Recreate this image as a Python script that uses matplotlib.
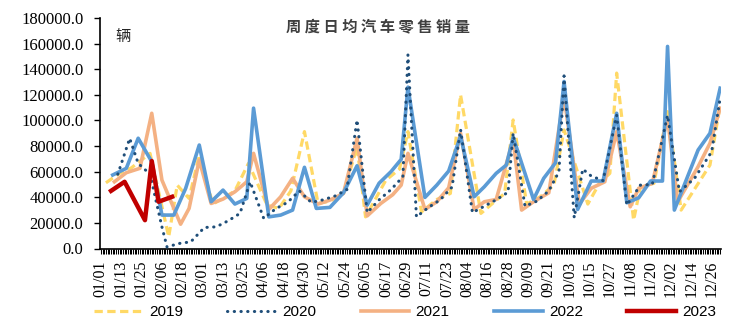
import numpy as np
import pandas as pd
import matplotlib
matplotlib.use('Agg')
import matplotlib.pyplot as plt

#-------------------------------------------------------------------------------
#DATA (dates placed on a leap-year calendar axis, values = daily avg units)

d2019 = ['01/04', '01/12', '01/19', '01/30', '02/10', '02/15', '02/22', '02/28',
         '03/07', '03/13', '03/20', '03/28', '04/08', '04/15', '04/22', '04/30',
         '05/08', '05/15', '05/23', '05/31', '06/05', '06/17', '06/25', '06/30',
         '07/08', '07/17', '07/25', '07/31', '08/12', '08/20', '08/26', '08/31',
         '09/08', '09/16', '09/24', '09/30', '10/14', '10/21', '10/27', '10/31',
         '11/10', '11/14', '11/22', '11/30', '12/08', '12/20', '12/25', '12/31']
v2019 = [51300, 58700, 63000, 74300, 9100, 49500, 39100, 73000,
         34700, 39100, 45000, 66500, 33900, 31300, 45000, 91300,
         35200, 37000, 43000, 79500, 24700, 53400, 62000, 91300,
         28600, 38300, 43000, 120000, 27400, 36500, 43000, 100400,
         34700, 40400, 49500, 92600, 34700, 51300, 58700, 137000,
         22100, 48200, 50900, 106900, 30000, 54800, 65200, 112000]

d2020 = ['01/11', '01/18', '01/23', '01/30', '02/06', '02/09', '02/16', '02/23',
         '03/02', '03/09', '03/16', '03/23', '03/29', '04/06', '04/13', '04/20',
         '04/27', '05/04', '05/11', '05/18', '05/25', '05/31', '06/06', '06/13',
         '06/20', '06/27', '06/30', '07/05', '07/12', '07/19', '07/26', '07/31',
         '08/07', '08/14', '08/21', '08/28', '08/31', '09/07', '09/14', '09/21',
         '09/27', '09/30', '10/06', '10/11', '10/16', '10/23', '10/31', '11/06',
         '11/14', '11/21', '11/30', '12/07', '12/16', '12/26', '12/31']
v2020 = [58000, 86000, 66500, 58000, 16900, 1200, 3900, 5200,
         16400, 16900, 21600, 27400, 52000, 23500, 31000, 36000,
         45000, 36000, 38000, 41000, 46000, 100400, 28000, 38000,
         46000, 56000, 151300, 24700, 32000, 38000, 48000, 93000,
         28000, 33000, 38000, 44000, 90000, 33000, 37000, 45000,
         60000, 134800, 24000, 62000, 56600, 53000, 104000, 33900,
         49500, 50000, 104000, 44300, 55000, 75600, 117400]

d2021 = ['01/09', '01/16', '01/24', '01/31', '02/06', '02/17', '02/22', '02/28',
         '03/06', '03/13', '03/20', '03/27', '03/31', '04/09', '04/16', '04/23',
         '04/30', '05/08', '05/15', '05/23', '05/31', '06/06', '06/14', '06/21',
         '06/26', '06/30', '07/10', '07/17', '07/24', '07/31', '08/08', '08/14',
         '08/21', '08/31', '09/05', '09/12', '09/21', '09/30', '10/09', '10/16',
         '10/24', '10/31', '11/08', '11/13', '11/21', '11/30', '12/06', '12/18',
         '12/25', '12/31']
v2021 = [52100, 59200, 62600, 105600, 53400, 19000, 31300, 69100,
         35200, 38600, 44300, 52100, 74300, 30500, 40400, 54800,
         40400, 34700, 37800, 43000, 86100, 25500, 35200, 42000,
         49500, 74300, 30500, 36500, 47400, 90000, 30500, 36500,
         38300, 84800, 30000, 36500, 43500, 118600, 34700, 47000,
         52100, 91300, 32600, 47000, 50900, 101700, 36500, 63900,
         82200, 109600]

d2022 = ['01/08', '01/16', '01/23', '01/31', '02/06', '02/13', '02/20', '02/28',
         '03/06', '03/13', '03/20', '03/27', '03/31', '04/09', '04/16', '04/23',
         '04/30', '05/07', '05/15', '05/23', '05/31', '06/06', '06/13', '06/20',
         '06/26', '06/30', '07/10', '07/17', '07/24', '07/31', '08/08', '08/14',
         '08/21', '08/27', '08/31', '09/12', '09/18', '09/25', '09/30', '10/08',
         '10/16', '10/23', '10/31', '11/06', '11/13', '11/20', '11/27', '11/30',
         '12/04', '12/18', '12/25', '12/31']
v2022 = [57400, 62600, 86100, 67800, 26100, 26100, 47000, 80800,
         36500, 45600, 34700, 39100, 109600, 24700, 26100, 30000,
         63400, 31300, 32100, 43500, 64600, 33900, 51000, 60000,
         69600, 126000, 39900, 49500, 60500, 87900, 40400, 48200,
         58700, 65200, 86900, 38300, 54800, 67000, 130400, 30500,
         52700, 52700, 105600, 35700, 39600, 52700, 52700, 157800,
         30000, 76900, 90000, 125200]

d2023 = ['01/07', '01/15', '01/27', '01/31', '02/04', '02/12']
v2023 = [45000, 52100, 22100, 68300, 36500, 40400]

xlabels = ['01/01', '01/13', '01/25', '02/06', '02/18', '03/01', '03/13', '03/25',
           '04/06', '04/18', '04/30', '05/12', '05/24', '06/05', '06/17', '06/29',
           '07/11', '07/23', '08/04', '08/16', '08/28', '09/09', '09/21', '10/03',
           '10/15', '10/27', '11/08', '11/20', '12/02', '12/14', '12/26']

#-------------------------------------------------------------------------------
#FUNCTIONS

def dayno(dates):
    #day index on the 2020 (leap year) calendar
    t = pd.to_datetime(['2020/' + d for d in dates])
    return np.array((t - pd.Timestamp('2020-01-01')).days)

#-------------------------------------------------------------------------------
#MAIN

fig = plt.figure(figsize=(7.53, 3.25), dpi=100)
ax = fig.add_axes([100/753, 1 - 248.5/325, 621/753, 230.5/325])

ax.plot(dayno(d2019), v2019, color='#FFD966', lw=2.3, ls=(0, (2.6, 1.4)), label='2019', zorder=2)
ax.plot(dayno(d2020), v2020, color='#1F4E79', lw=2.2, ls=(0, (0.1, 2.1)),
        dash_capstyle='round', label='2020', zorder=3)
ax.plot(dayno(d2021), v2021, color='#F4B183', lw=2.6, label='2021', zorder=2.5)
ax.plot(dayno(d2022), v2022, color='#5B9BD5', lw=2.6, label='2022', zorder=2.7)
ax.plot(dayno(d2023), v2023, color='#C00000', lw=3.2, label='2023', zorder=4)

#axes format
ax.set_xlim(-0.5, 365.5)
ax.set_ylim(0, 180000)
ax.set_yticks(np.arange(0, 180001, 20000))
ax.set_yticklabels(['%.1f' % v for v in np.arange(0, 180001, 20000)],
                   family='Liberation Serif', fontsize=12)
ax.set_xticks(dayno(xlabels))
ax.set_xticklabels(xlabels, rotation=90, family='Liberation Serif', fontsize=11.5)
ax.set_xticks(np.arange(0, 366), minor=True)
ax.tick_params(axis='y', length=4, width=1, pad=8, direction='out')
ax.tick_params(axis='x', which='both', length=3.5, width=0.75, pad=5, direction='out',
               color='#000000')
for s in ['top', 'right']:
    ax.spines[s].set_visible(False)
for s in ['left', 'bottom']:
    ax.spines[s].set_linewidth(1.2)
    ax.spines[s].set_color('#000000')

fig.text(378/753, 1 - 26/325, ' '.join('周度日均汽车零售销量'), family='Noto Sans CJK SC',
         fontsize=11, fontweight='bold', color='#3F3F3F', ha='center', va='center')
fig.text(123/753, 1 - 36/325, '辆', family='Noto Sans CJK SC', fontsize=11,
         color='#262626', ha='center', va='center')

fig.legend(loc='center', bbox_to_anchor=(405/753, 1 - 312/325), ncol=5, frameon=False,
           prop={'family': 'Liberation Sans', 'size': 11}, handlelength=3.2,
           handletextpad=0.4, columnspacing=2.9)

fig.savefig('out.png', dpi=100)
